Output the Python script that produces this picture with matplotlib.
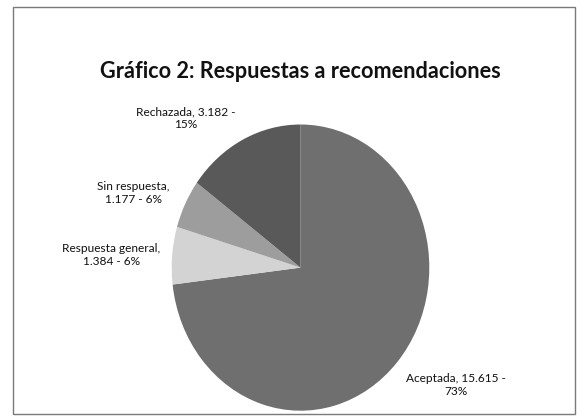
import matplotlib.pyplot as plt
from matplotlib.patches import Rectangle

# Data
categories = ['Aceptada', 'Respuesta general', 'Sin respuesta', 'Rechazada']
counts = [15615, 1384, 1177, 3182]
pct_labels = ['73%', '6%', '6%', '15%']
count_labels = ['15.615', '1.384', '1.177', '3.182']
colors = ['#6f6f6f', '#d3d3d3', '#9d9d9d', '#595959']

W, H = 582, 420
fig = plt.figure(figsize=(W / 100, H / 100), dpi=100)
fig.patch.set_facecolor('white')

# outer frame
fig.patches.append(Rectangle((13 / W, 1 - 414 / H), 562 / W, 407 / H,
                             transform=fig.transFigure, fill=False,
                             edgecolor='#7a7a7a', linewidth=1.0))

# pie area (pie is a bit stretched vertically in the original)
cx, cy, rx, ry = 300.5, 267.6, 128.8, 143.1
ax = fig.add_axes([(cx - rx) / W, (H - cy - ry) / H, 2 * rx / W, 2 * ry / H])
ax.pie(counts, colors=colors, startangle=90, counterclock=False,
       wedgeprops=dict(linewidth=0))
ax.set_aspect('auto')
ax.set_xlim(-1, 1)
ax.set_ylim(-1, 1)
ax.axis('off')

fig.text(300 / W, 1 - 72 / H, 'Gráfico 2: Respuestas a recomendaciones',
         ha='center', va='center', fontsize=15.6, fontweight='bold',
         family='Lato', color='#111111')

# data labels, placed like Excel's best fit
label_pos = [(1.207, -0.82), (-1.47, 0.088), (-1.30, 0.52), (-0.889, 1.045)]
label_text = [
    f'{categories[0]}, {count_labels[0]} -\n{pct_labels[0]}',
    f'{categories[1]},\n{count_labels[1]} - {pct_labels[1]}',
    f'{categories[2]},\n{count_labels[2]} - {pct_labels[2]}',
    f'{categories[3]}, {count_labels[3]} -\n{pct_labels[3]}',
]
for (x, y), t in zip(label_pos, label_text):
    ax.text(x, y, t, ha='center', va='center', fontsize=8.6, family='Lato',
            color='#111111', linespacing=1.2, clip_on=False)

fig.savefig('out.png', dpi=100)
